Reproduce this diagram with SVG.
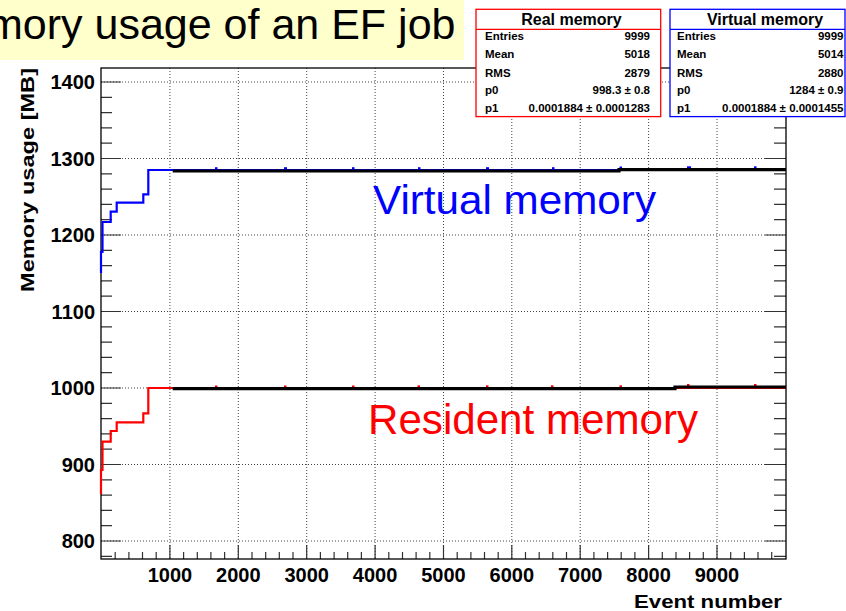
<svg xmlns="http://www.w3.org/2000/svg" width="846" height="611" viewBox="0 0 846 611">
  <style>
    text { font-family: "Liberation Sans", Arial, Helvetica, sans-serif; fill: #000; }
    .bold { font-weight: bold; }
    .ylab { font-size: 20px; font-weight: bold; text-anchor: end; }
    .xlab { font-size: 20px; font-weight: bold; text-anchor: middle; }
    .grid { fill: none; stroke: #444; stroke-width: 1; stroke-dasharray: 1 2; }
    .tick { fill: none; stroke: #333; stroke-width: 1.2; }
    .frame { fill: none; stroke: #000; stroke-width: 1.3; }
    .stat { font-size: 11.5px; font-weight: bold; }
    .statv { font-size: 11.5px; font-weight: bold; text-anchor: end; }
    .stitle { font-size: 16px; font-weight: bold; text-anchor: middle; }
  </style>

  <rect width="846" height="611" fill="#fff"/>

  <!-- slide title banner -->
  <g id="title">
    <rect x="0" y="0" width="464" height="60" fill="#ffffcc"/>
    <text x="-13" y="39" font-size="43">mory usage of an EF job</text>
  </g>

  <!-- plot frame: grid, ticks, axes -->
  <g id="axes">
    <path class="grid" d="M101,82H786M101,158.5H786M101,235H786M101,311.5H786M101,388H786M101,464.5H786M101,541H786"/>
    <path class="grid" d="M169.9,68V559M238.3,68V559M306.7,68V559M375.1,68V559M443.5,68V559M511.8,68V559M580.2,68V559M648.6,68V559M717,68V559"/>

    <!-- left axis ticks -->
    <path class="tick" d="M101,82h20M101,158.5h20M101,235h20M101,311.5h20M101,388h20M101,464.5h20M101,541h20"/>
    <path class="tick" d="M101,97.3h11M101,112.6h11M101,127.9h11M101,143.2h11M101,173.8h11M101,189.1h11M101,204.4h11M101,219.7h11M101,250.3h11M101,265.6h11M101,280.9h11M101,296.2h11M101,326.8h11M101,342.1h11M101,357.4h11M101,372.7h11M101,403.3h11M101,418.6h11M101,433.9h11M101,449.2h11M101,479.8h11M101,495.1h11M101,510.4h11M101,525.7h11M101,556.3h11"/>
    <!-- right axis ticks -->
    <path class="tick" d="M786,82h-21M786,158.5h-21M786,235h-21M786,311.5h-21M786,388h-21M786,464.5h-21M786,541h-21"/>
    <path class="tick" d="M786,97.3h-12M786,112.6h-12M786,127.9h-12M786,143.2h-12M786,173.8h-12M786,189.1h-12M786,204.4h-12M786,219.7h-12M786,250.3h-12M786,265.6h-12M786,280.9h-12M786,296.2h-12M786,326.8h-12M786,342.1h-12M786,357.4h-12M786,372.7h-12M786,403.3h-12M786,418.6h-12M786,433.9h-12M786,449.2h-12M786,479.8h-12M786,495.1h-12M786,510.4h-12M786,525.7h-12M786,556.3h-12"/>
    <!-- bottom axis ticks -->
    <path class="tick" d="M169.9,559v-14M238.3,559v-14M306.7,559v-14M375.1,559v-14M443.5,559v-14M511.8,559v-14M580.2,559v-14M648.6,559v-14M717,559v-14"/>
    <path class="tick" d="M115.2,559v-7M128.9,559v-7M142.5,559v-7M156.2,559v-7M183.6,559v-7M197.3,559v-7M210.9,559v-7M224.6,559v-7M252,559v-7M265.7,559v-7M279.3,559v-7M293,559v-7M320.4,559v-7M334.1,559v-7M347.7,559v-7M361.4,559v-7M388.8,559v-7M402.5,559v-7M416.1,559v-7M429.8,559v-7M457.2,559v-7M470.9,559v-7M484.5,559v-7M498.2,559v-7M525.5,559v-7M539.2,559v-7M552.8,559v-7M566.5,559v-7M593.9,559v-7M607.6,559v-7M621.2,559v-7M634.9,559v-7M662.3,559v-7M676,559v-7M689.6,559v-7M703.3,559v-7M730.7,559v-7M744.4,559v-7M758,559v-7M771.7,559v-7"/>

    <rect class="frame" x="101" y="68" width="685" height="491"/>

    <!-- y labels -->
    <text class="ylab" x="95" y="89">1400</text>
    <text class="ylab" x="95" y="165.5">1300</text>
    <text class="ylab" x="95" y="242">1200</text>
    <text class="ylab" x="95" y="318.5">1100</text>
    <text class="ylab" x="95" y="395">1000</text>
    <text class="ylab" x="95" y="471.5">900</text>
    <text class="ylab" x="95" y="548">800</text>

    <!-- x labels -->
    <text class="xlab" x="169.9" y="582">1000</text>
    <text class="xlab" x="238.3" y="582">2000</text>
    <text class="xlab" x="306.7" y="582">3000</text>
    <text class="xlab" x="375.1" y="582">4000</text>
    <text class="xlab" x="443.5" y="582">5000</text>
    <text class="xlab" x="511.8" y="582">6000</text>
    <text class="xlab" x="580.2" y="582">7000</text>
    <text class="xlab" x="648.6" y="582">8000</text>
    <text class="xlab" x="717" y="582">9000</text>

    <!-- axis titles -->
    <text class="bold" x="634" y="608" font-size="19" textLength="148" lengthAdjust="spacingAndGlyphs">Event number</text>
    <text class="bold" transform="translate(34,292) rotate(-90)" font-size="18.5" textLength="224" lengthAdjust="spacingAndGlyphs">Memory usage [MB]</text>
  </g>

  <!-- data curves -->
  <g id="curves" fill="none">
    <path d="M101,273V252H102.5V222H110.7V211.7H116.7V202.7H143.3V194.3H148.3V170H786" stroke="#0000ff" stroke-width="2.2"/>
    <path d="M101,494V470H102.5V441.7H110.7V431H116.7V422.3H143.3V413.3H148.3V388H786" stroke="#ff0000" stroke-width="2.2"/>
    <g fill="#0000ff">
      <rect x="215" y="167.2" width="2.5" height="2.5"/>
      <rect x="284" y="167.2" width="3" height="2.5"/>
      <rect x="352" y="167.2" width="2.5" height="2.5"/>
      <rect x="418" y="167.2" width="2.5" height="2.5"/>
      <rect x="486" y="167.2" width="3" height="2.5"/>
      <rect x="552" y="167.2" width="2.5" height="2.5"/>
      <rect x="619.5" y="166.5" width="2.5" height="2.5"/>
      <rect x="687" y="166.3" width="4" height="2.5"/>
      <rect x="754" y="166.3" width="2.5" height="2.5"/>
    </g>
    <g fill="#ff0000">
      <rect x="215" y="385.5" width="2.5" height="2.5"/>
      <rect x="284" y="385.5" width="2.5" height="2.5"/>
      <rect x="352" y="385.5" width="2.5" height="2.5"/>
      <rect x="417.5" y="385.3" width="2.5" height="2.5"/>
      <rect x="486" y="385.3" width="2.5" height="2.5"/>
      <rect x="551" y="385.3" width="2.5" height="2.5"/>
      <rect x="619.5" y="385.3" width="2.5" height="2.5"/>
      <rect x="687" y="384" width="2.5" height="2.5"/>
      <rect x="754" y="384" width="2.5" height="2.5"/>
    </g>
    <!-- fitted lines -->
    <path d="M172.7,171H619V169.6H786" stroke="#000" stroke-width="3.2"/>
    <path d="M172.7,388.6H675V387H786" stroke="#000" stroke-width="3.2"/>
  </g>

  <!-- curve labels -->
  <g id="label-virtual">
    <text x="373" y="214" font-size="40.5" style="fill:#0000ff" textLength="283" lengthAdjust="spacingAndGlyphs">Virtual memory</text>
  </g>
  <g id="label-resident">
    <text x="368" y="433.5" font-size="42" style="fill:#ff0000" textLength="330" lengthAdjust="spacingAndGlyphs">Resident memory</text>
  </g>

  <!-- statistics boxes -->
  <g id="stats-real">
    <rect x="476" y="9.3" width="184.7" height="107.3" fill="#fff" stroke="#ff0000" stroke-width="1.3"/>
    <line x1="476" y1="29.3" x2="660.7" y2="29.3" stroke="#ff0000" stroke-width="1.3"/>
    <text class="stitle" x="571.5" y="25">Real memory</text>
    <text class="stat" x="485" y="40">Entries</text>
    <text class="stat" x="485" y="58">Mean</text>
    <text class="stat" x="485" y="77">RMS</text>
    <text class="stat" x="485" y="93.5">p0</text>
    <text class="stat" x="485" y="112">p1</text>
    <text class="statv" x="650" y="40">9999</text>
    <text class="statv" x="650" y="58">5018</text>
    <text class="statv" x="650" y="77">2879</text>
    <text class="statv" x="650" y="93.5">998.3 ± 0.8</text>
    <text class="statv" x="650" y="112">0.0001884 ± 0.0001283</text>
  </g>
  <g id="stats-virtual">
    <rect x="670" y="9.3" width="175" height="107.3" fill="#fff" stroke="#0000ff" stroke-width="1.3"/>
    <line x1="670" y1="29.3" x2="845" y2="29.3" stroke="#0000ff" stroke-width="1.3"/>
    <text class="stitle" x="765" y="25">Virtual memory</text>
    <text class="stat" x="677" y="40">Entries</text>
    <text class="stat" x="677" y="58">Mean</text>
    <text class="stat" x="677" y="77">RMS</text>
    <text class="stat" x="677" y="93.5">p0</text>
    <text class="stat" x="677" y="112">p1</text>
    <text class="statv" x="843.5" y="40">9999</text>
    <text class="statv" x="843.5" y="58">5014</text>
    <text class="statv" x="843.5" y="77">2880</text>
    <text class="statv" x="843.5" y="93.5">1284 ± 0.9</text>
    <text class="statv" x="843.5" y="112">0.0001884 ± 0.0001455</text>
  </g>
</svg>
